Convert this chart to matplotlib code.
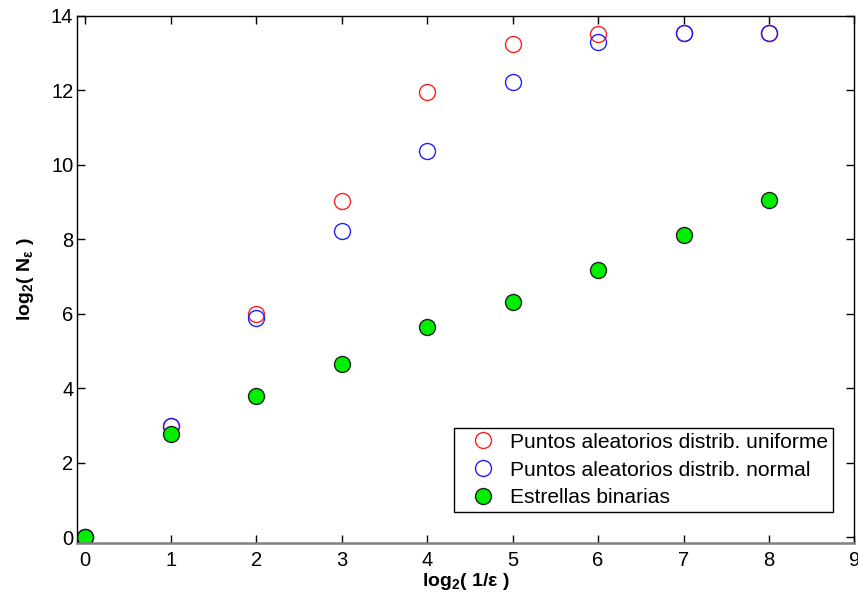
import matplotlib
matplotlib.use("Agg")
import matplotlib.pyplot as plt

plt.rcParams['font.family'] = ['Liberation Sans', 'DejaVu Sans']
plt.rcParams['mathtext.fontset'] = 'custom'
plt.rcParams['mathtext.rm'] = 'Liberation Sans'
plt.rcParams['mathtext.bf'] = 'Liberation Sans:bold'
plt.rcParams['mathtext.it'] = 'Liberation Sans:italic'

x = [0, 1, 2, 3, 4, 5, 6, 7, 8]
uniforme = [0.0, 3.0, 5.99, 9.03, 11.95, 13.26, 13.52, 13.54, 13.55]
normal = [0.0, 3.0, 5.88, 8.23, 10.38, 12.23, 13.29, 13.54, 13.55]
binarias = [0.0, 2.79, 3.81, 4.65, 5.66, 6.33, 7.19, 8.13, 9.05]

labels = ['Puntos aleatorios distrib. uniforme',
          'Puntos aleatorios distrib. normal',
          'Estrellas binarias']

fig = plt.figure(figsize=(8.58, 5.99), dpi=100)
ax = fig.add_axes([0.0903, 0.094, 0.9056, 0.8793])

ms = 11.5
ax.plot(x, uniforme, 'o', ls='none', ms=ms, mfc='none', mec='#ff2020', mew=1.0, label=labels[0])
ax.plot(x, normal, 'o', ls='none', ms=ms, mfc='none', mec='#2020ff', mew=1.0, label=labels[1])
ax.plot(x, binarias, 'o', ls='none', ms=ms, mfc='#00ee00', mec='#202020', mew=1.0, label=labels[2])

ax.set_xlim(-0.09, 9)
ax.set_ylim(-0.14, 14)
ax.set_xticks(range(0, 10))
ax.set_yticks(range(0, 15, 2))
ax.tick_params(direction='in', length=6, width=1, top=True, right=True,
               labelsize=14.5, colors='black')
ax.tick_params(axis='y', pad=3)
ax.tick_params(axis='x', pad=6)
for s in ax.spines.values():
    s.set_linewidth(1.0)
    s.set_color('black')
ax.spines['bottom'].set_color('#808080')
ax.spines['bottom'].set_linewidth(1.8)

ax.set_xlabel(r'$\mathbf{log_2(\ 1/\epsilon\ )}$', fontsize=14, labelpad=1)
ax.set_ylabel(r'$\mathbf{log_2(\ N_{\epsilon}\ )}$', fontsize=14, labelpad=11)

leg = ax.legend(loc='lower right', bbox_to_anchor=(0.9723, 0.0583), borderaxespad=0,
                fontsize=15.1, frameon=True, fancybox=False, framealpha=1,
                edgecolor='black', handletextpad=0.15, labelspacing=0.42,
                borderpad=0.22, handlelength=2.3)
leg.get_frame().set_linewidth(1.0)

fig.savefig('out.png', dpi=100)
